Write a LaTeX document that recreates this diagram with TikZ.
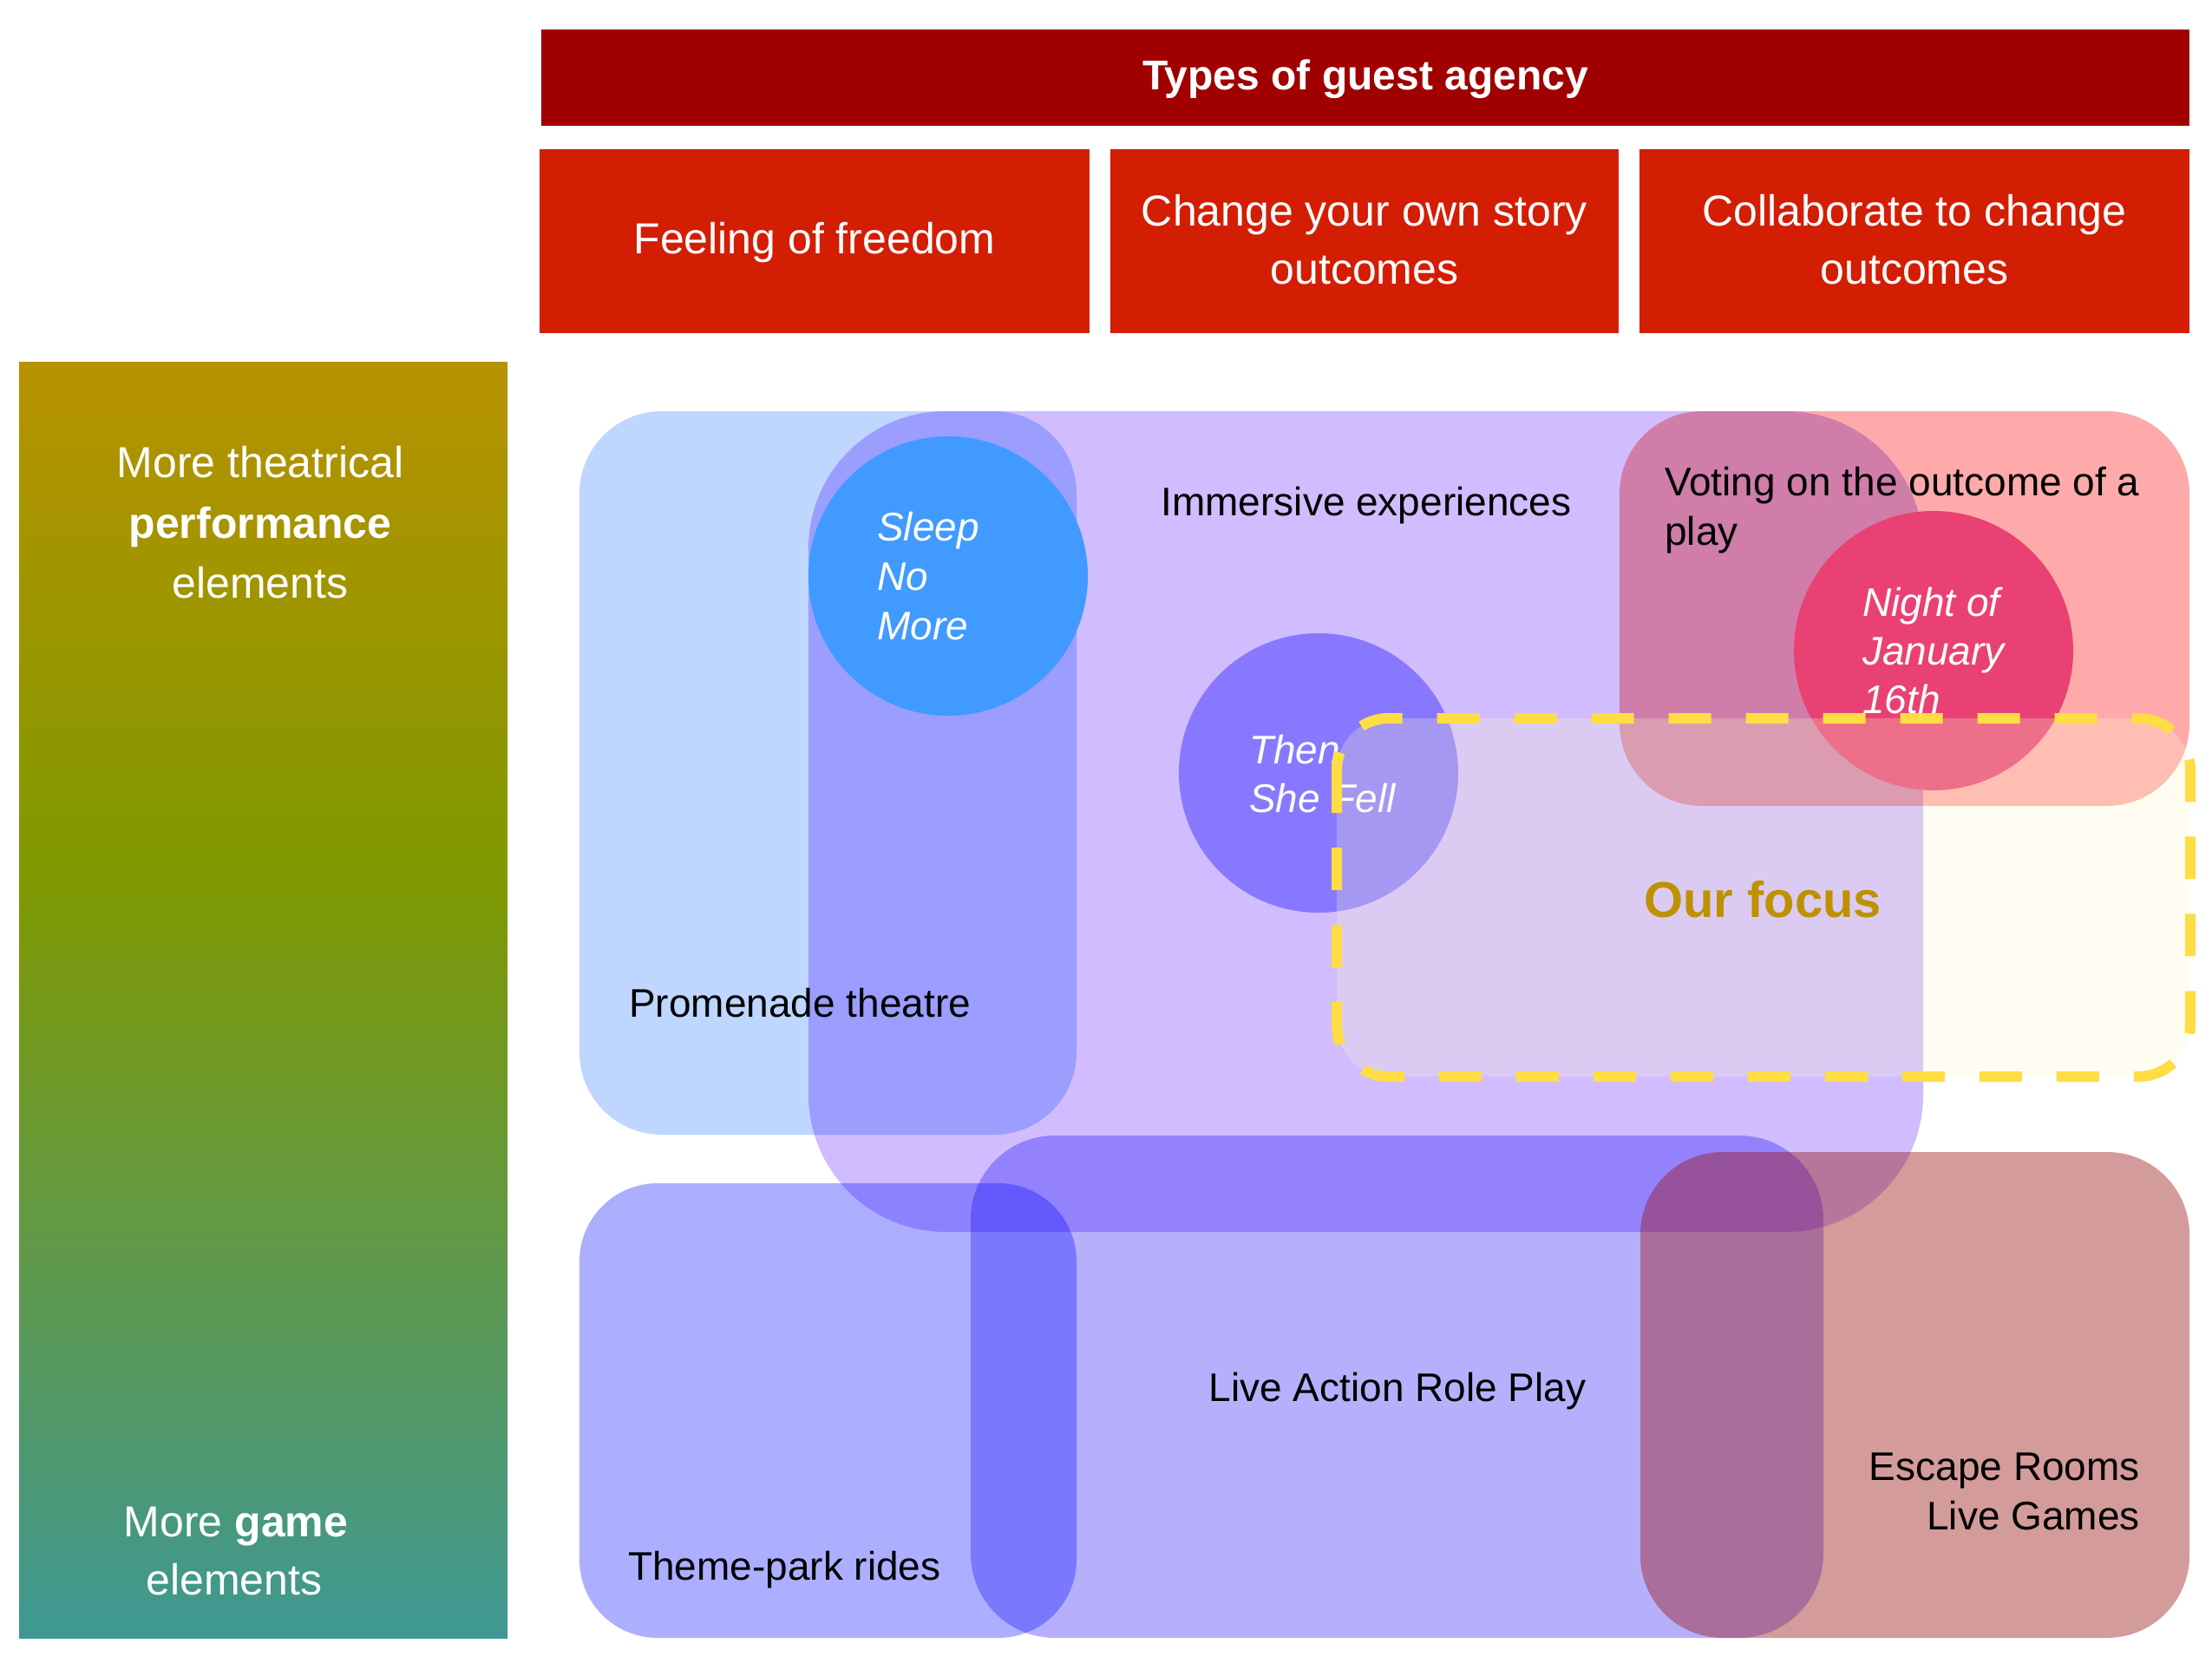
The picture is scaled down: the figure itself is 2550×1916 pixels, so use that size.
\documentclass[tikz,border=0pt]{standalone}
\usepackage{fontspec}
\setmainfont{Liberation Sans}
\definecolor{titlered}{RGB}{160,0,0}
\definecolor{colred}{RGB}{211,30,4}
\definecolor{gtop}{RGB}{184,146,0}
\definecolor{gmid}{RGB}{128,153,0}
\definecolor{gbot}{RGB}{62,152,147}
\definecolor{prom}{RGB}{191,214,255}
\definecolor{imm}{RGB}{208,188,255}
\definecolor{vote}{RGB}{255,170,170}
\definecolor{theme}{RGB}{172,175,255}
\definecolor{larp}{RGB}{182,176,252}
\definecolor{escape}{RGB}{153,19,19}
\definecolor{snm}{RGB}{64,154,255}
\definecolor{tsf}{RGB}{136,120,255}
\definecolor{night}{RGB}{233,65,115}
\definecolor{focusfill}{RGB}{255,250,205}
\definecolor{focusline}{RGB}{255,221,68}
\definecolor{focustext}{RGB}{190,145,0}
\pgfdeclareverticalshading{gbar}{100bp}{color(0bp)=(gbot); color(25bp)=(gbot); color(55bp)=(gmid); color(75bp)=(gtop); color(100bp)=(gtop)}
\begin{document}
\begin{tikzpicture}[x=1pt,y=-1pt,
  hdr/.style={font=\fontsize{50}{60}\selectfont, text=white, inner sep=0pt},
  lab/.style={font=\fontsize{46}{56}\selectfont, text=black, inner sep=0pt},
  ital/.style={font=\fontsize{46}{56}\selectfont\itshape, text=white, inner sep=0pt},
  blob/.style={draw=none},
  disc/.style={draw=none}]
% background and bounding box
\fill[white] (0,0) rectangle (2550,1916);
\useasboundingbox (0,0) rectangle (2550,1916);
% left gradient bar
\shade[shading=gbar] (22,417) rectangle (585,1888);
% title and column headers
\fill[titlered] (624,34) rectangle (2524,145);
\fill[colred] (622,172) rectangle (1256,384);
\fill[colred] (1280,172) rectangle (1866,384);
\fill[colred] (1890,172) rectangle (2524,384);
\node[hdr, font=\fontsize{48}{58}\selectfont\bfseries, anchor=base] (title) at (1574,104) {Types of guest agency};
\node[hdr, anchor=base] (c1) at (939,292) {Feeling of freedom};
\node[hdr, anchor=base] (c2a) at (1573,260) {Change your own story};
\node[hdr, anchor=base] (c2b) at (1573,327) {outcomes};
\node[hdr, anchor=base] (c3a) at (2207,260) {Collaborate to change};
\node[hdr, anchor=base] (c3b) at (2207,327) {outcomes};
% left bar texts
\node[hdr, anchor=base] (t1) at (300,550) {More theatrical};
\node[hdr, anchor=base] (t2) at (300,620) {\bfseries performance};
\node[hdr, anchor=base] (t3) at (300,689) {elements};
\node[hdr, anchor=base] (g1) at (272,1771) {More \textbf{game}};
\node[hdr, anchor=base] (g2) at (270,1838) {elements};
% overlapping regions
\begin{scope}[blend mode=multiply]
\fill[blob, prom, rounded corners=95pt] (668,474) rectangle (1241,1308);
\fill[blob, imm, rounded corners=158pt] (932,474) rectangle (2217,1420);
\fill[blob, vote, rounded corners=95pt] (1867,474) rectangle (2524,929);
\fill[blob, theme, rounded corners=90pt] (668,1364) rectangle (1241,1888);
\fill[blob, larp, rounded corners=97pt] (1119,1309) rectangle (2102,1888);
\end{scope}
\fill[blob, escape, opacity=0.42, rounded corners=95pt] (1891,1328) rectangle (2524,1888);
% circles
\fill[disc, snm] (1093,664) circle (161);
\fill[disc, tsf] (1520,891) circle (161);
\fill[disc, night] (2229,750) circle (161);
% labels
\node[lab, anchor=base] (imml) at (1575,594) {Immersive experiences};
\node[lab, anchor=base west] (proml) at (725,1172) {Promenade theatre};
\node[lab, anchor=base west] (themel) at (724,1821) {Theme-park rides};
\node[lab, anchor=base] (larpl) at (1611,1615) {Live Action Role Play};
\node[lab, anchor=base east] (esc1) at (2467,1706) {Escape Rooms};
\node[lab, anchor=base east] (esc2) at (2467,1763) {Live Games};
\node[lab, anchor=base west] (vote1) at (1919,571) {Voting on the outcome of a};
\node[lab, anchor=base west] (vote2) at (1919,628) {play};
\node[ital, anchor=base west] (s1) at (1011,623) {Sleep};
\node[ital, anchor=base west] (s2) at (1011,680) {No};
\node[ital, anchor=base west] (s3) at (1011,737) {More};
\node[ital, anchor=base west] (f1) at (1440,880) {Then};
\node[ital, anchor=base west] (f2) at (1440,936) {She Fell};
\node[ital, anchor=base west] (n1) at (2147,710) {Night of};
\node[ital, anchor=base west] (n2) at (2147,766) {January};
\node[ital, anchor=base west] (n3) at (2147,822) {16th};
% focus box
\fill[focusfill, opacity=0.25, rounded corners=60pt] (1541,828) rectangle (2525,1241);
\draw[focusline, line width=12pt, dash pattern=on 49pt off 40pt, rounded corners=60pt] (1541,828) rectangle (2525,1241);
\node[inner sep=0pt, anchor=base, text=focustext, font=\fontsize{58}{70}\selectfont\bfseries] (focus) at (2032,1057) {Our focus};
\end{tikzpicture}
\end{document}
